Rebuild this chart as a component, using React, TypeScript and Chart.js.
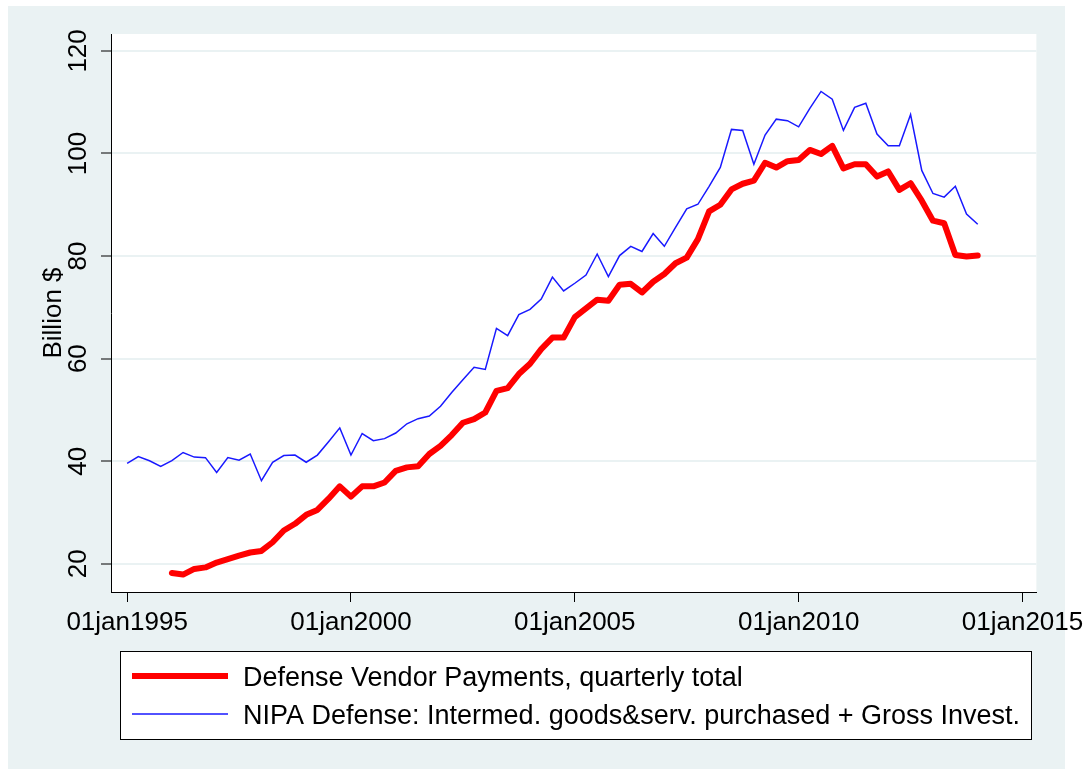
import React, { useEffect, useRef } from 'react';
import { Chart, registerables } from 'chart.js';

Chart.register(...registerables);

// Quarterly categories 1995q1 .. 2014q1
const quarterLabels: string[] = [];
for (let y = 1995; y <= 2014; y++) {
  for (let q = 1; q <= 4; q++) {
    if (y === 2014 && q > 1) break;
    quarterLabels.push(`${y}q${q}`);
  }
}

const nipaValues: number[] = [
  39.6, 40.9, 40.1, 39.0, 40.1, 41.7, 40.8, 40.7, 37.8, 40.7, 40.2, 41.4, 36.2, 39.8, 41.1, 41.2,
  39.8, 41.2, 43.8, 46.5, 41.2, 45.4, 44.0, 44.4, 45.5, 47.3, 48.3, 48.8, 50.7, 53.4, 55.9, 58.3,
  57.9, 65.9, 64.5, 68.6, 69.6, 71.6, 75.9, 73.2, 74.7, 76.3, 80.4, 76.0, 80.1, 81.9, 80.9, 84.4,
  81.9, 85.6, 89.2, 90.1, 93.6, 97.3, 104.7, 104.5, 97.9, 103.6, 106.7, 106.4, 105.2, 108.8, 112.1, 110.6,
  104.5, 109.0, 109.8, 103.8, 101.5, 101.5, 107.6, 96.7, 92.2, 91.5, 93.6, 88.2, 86.2,
];

const vendorValues: (number | null)[] = [
  null, null, null, null,
  18.2, 17.9, 19.0, 19.3, 20.25, 20.9, 21.6, 22.2, 22.5, 24.2, 26.5, 27.8,
  29.55, 30.5, 32.7, 35.1, 33.1, 35.1, 35.1, 35.85, 38.1, 38.8, 39.0, 41.4, 43.0, 45.1, 47.5, 48.2,
  49.5, 53.7, 54.25, 57.0, 59.0, 61.85, 64.1, 64.1, 68.1, 69.8, 71.5, 71.3, 74.4, 74.6, 72.9, 75.0,
  76.5, 78.6, 79.7, 83.3, 88.7, 90.0, 93.0, 94.1, 94.7, 98.2, 97.25, 98.5, 98.75, 100.7, 99.9, 101.5,
  97.1, 97.9, 97.9, 95.5, 96.5, 92.9, 94.2, 90.8, 86.9, 86.4, 80.2, 79.9, 80.1,
];

const xTickYears: number[] = [1995, 2000, 2005, 2010, 2015];
const yTickValues: number[] = [20, 40, 60, 80, 100, 120];
const seriesLabels: string[] = [
  'Defense Vendor Payments, quarterly total',
  'NIPA Defense: Intermed. goods&serv. purchased + Gross Invest.',
];
const yAxisTitle = 'Billion $';

const FONT = 'Liberation Sans, Arial, sans-serif';
const BG = 'rgb(234,242,243)';

const quarterToYear = (s: string) => {
  const [y, q] = s.split('q');
  return Number(y) + (Number(q) - 1) / 4;
};

const CW = 1081;
const CH = 764;

export default function App() {
  const ref = useRef<HTMLCanvasElement | null>(null);

  useEffect(() => {
    if (!ref.current) return;
    const xs = quarterLabels.map(quarterToYear);

    const bgPlugin = {
      id: 'bgPlugin',
      beforeDraw(chart: any) {
        const { ctx, chartArea } = chart;
        ctx.save();
        ctx.fillStyle = BG;
        ctx.fillRect(0, 0, 1057, 763);
        ctx.fillStyle = '#ffffff';
        ctx.fillRect(chartArea.left, chartArea.top, chartArea.right - chartArea.left, chartArea.bottom - chartArea.top);
        ctx.restore();
      },
    };

    const legendPlugin = {
      id: 'boxLegend',
      afterDraw(chart: any) {
        const { ctx } = chart;
        ctx.save();
        ctx.fillStyle = '#ffffff';
        ctx.fillRect(112, 645, 911, 88);
        ctx.strokeStyle = '#000';
        ctx.lineWidth = 1;
        ctx.strokeRect(112.5, 645.5, 911, 88);
        const rows = [
          { y: 670, ds: chart.data.datasets[0] },
          { y: 708, ds: chart.data.datasets[1] },
        ];
        rows.forEach((r) => {
          ctx.beginPath();
          ctx.strokeStyle = r.ds.borderColor;
          ctx.lineWidth = r.ds.borderWidth;
          ctx.lineCap = 'butt';
          ctx.moveTo(124, r.y);
          ctx.lineTo(220, r.y);
          ctx.stroke();
          ctx.fillStyle = '#000';
          ctx.font = `27px ${FONT}`;
          ctx.textAlign = 'left';
          ctx.textBaseline = 'middle';
          ctx.fillText(r.ds.label, 235, r.y + 3);
        });
        ctx.restore();
      },
    };

    const chart = new Chart(ref.current, {
      type: 'line',
      data: {
        datasets: [
          {
            label: seriesLabels[0],
            data: xs.map((x, i) => ({ x, y: vendorValues[i] })) as any,
            borderColor: 'rgb(255,0,0)',
            borderWidth: 6,
            pointRadius: 0,
            borderJoinStyle: 'round',
            borderCapStyle: 'round',
            fill: false,
            tension: 0,
          },
          {
            label: seriesLabels[1],
            data: xs.map((x, i) => ({ x, y: nipaValues[i] })) as any,
            borderColor: 'rgb(25,25,255)',
            borderWidth: 1.5,
            pointRadius: 0,
            fill: false,
            tension: 0,
          },
        ],
      },
      options: {
        animation: false,
        responsive: false,
        devicePixelRatio: 1,
        layout: { padding: { top: 28, right: 52, bottom: 118, left: 0 } },
        plugins: {
          legend: { display: false },
          tooltip: { enabled: false },
          title: { display: false },
        },
        scales: {
          x: {
            type: 'linear',
            min: 1994.64,
            max: 2015.31,
            afterBuildTicks: (s: any) => {
              s.ticks = xTickYears.map((v) => ({ value: v }));
            },
            afterFit: (s: any) => {
              s.height = 60;
            },
            ticks: {
              callback: (v: any) => `01jan${v}`,
              font: { family: FONT, size: 26 },
              color: '#000',
              padding: 5,
              minRotation: 0,
              maxRotation: 0,
              autoSkip: false,
            },
            grid: {
              drawOnChartArea: false,
              drawTicks: true,
              tickLength: 10,
              tickColor: '#000',
              tickWidth: 1,
            },
            border: { display: true, color: '#000', width: 1 },
          },
          y: {
            type: 'linear',
            min: 14.5,
            max: 123.3,
            afterBuildTicks: (s: any) => {
              s.ticks = yTickValues.map((v) => ({ value: v }));
            },
            afterFit: (s: any) => {
              s.width = 103;
            },
            ticks: {
              font: { family: FONT, size: 26 },
              color: '#000',
              minRotation: 90,
              maxRotation: 90,
              crossAlign: 'center',
              padding: 0,
            },
            grid: {
              color: BG,
              lineWidth: 2,
              drawTicks: true,
              tickLength: 10,
              tickColor: '#000',
              tickWidth: 1,
            },
            border: { display: true, color: '#000', width: 1 },
            title: {
              display: true,
              text: yAxisTitle,
              color: '#000',
              font: { family: FONT, size: 26 },
              padding: { top: 30, bottom: 0 },
            },
          },
        },
      },
      plugins: [bgPlugin, legendPlugin],
    } as any);

    return () => chart.destroy();
  }, []);

  return (
    <div style={{ position: 'absolute', left: 8, top: 6, width: CW, height: CH }}>
      <canvas ref={ref} width={CW} height={CH} style={{ width: CW, height: CH, display: 'block' }} />
    </div>
  );
}
